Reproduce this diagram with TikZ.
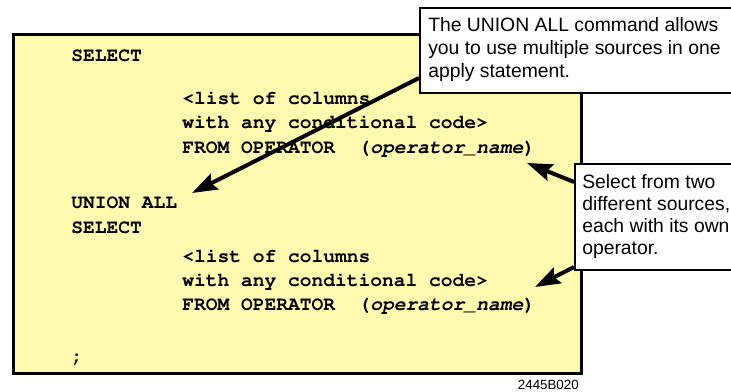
\documentclass[tikz,border=0pt]{standalone}
\usepackage[T1]{fontenc}
\usepackage{fontspec}
\setmainfont{Liberation Sans}
\setmonofont{Liberation Mono}
\usetikzlibrary{arrows.meta,calc}
\definecolor{notepad}{RGB}{255,250,176}
% bold Courier for the query listing
\newcommand{\querymono}{\fontencoding{T1}\fontfamily{pcr}\fontseries{b}\fontsize{14.7}{17}\selectfont}
\begin{document}
\begin{tikzpicture}[x=0.75pt,y=-0.75pt,
  code/.style={anchor=base west,inner sep=0pt,font=\querymono},
  note/.style={anchor=base west,inner sep=0pt,font=\fontsize{14.5}{17}\selectfont},
  panel/.style={draw=black,line width=2pt,fill=notepad,anchor=north west,inner sep=0pt},
  callout/.style={draw=black,line width=1.6pt,fill=white,anchor=north west,inner sep=0pt},
  pointer/.style={line width=3pt,-{Stealth[length=19pt,width=13pt,inset=3pt]}}]
\useasboundingbox (0,0) rectangle (731,392);
\clip (0,0) rectangle (731,392);

% query panel
\node[panel,minimum width=426pt,minimum height=254.25pt] (panel) at (12,33) {};

\node[code] (sel1)   at (71,62)  {SELECT};
\node[code] (cols1)  at (182,105) {<list of columns};
\node[code] (cond1)  at (182,129) {with any conditional code>};
\node[code] (from1)  at (182,153) {FROM OPERATOR~~(\textit{operator\_name})};
\node[code] (union)  at (71,208) {UNION ALL};
\node[code] (sel2)   at (71,233) {SELECT};
\node[code] (cols2)  at (182,262) {<list of columns};
\node[code] (cond2)  at (182,286) {with any conditional code>};
\node[code] (from2)  at (182,310) {FROM OPERATOR~~(\textit{operator\_name})};
\node[code] (semi)   at (71,362) {;};

% callouts
\node[callout,minimum width=244.5pt,minimum height=63.75pt] (c1) at (419,7) {};
\node[note] (c1a) at (428,32) {The UNION ALL command allows};
\node[note] (c1b) at (428,55) {you to use multiple sources in one};
\node[note] (c1c) at (428,78) {apply statement.};

\node[callout,minimum width=127.5pt,minimum height=79.5pt] (c2) at (574,163) {};
\node[note] (c2a) at (582,188) {Select from two};
\node[note] (c2b) at (582,210) {different sources,};
\node[note] (c2c) at (582,232) {each with its own};
\node[note] (c2d) at (582,254) {operator.};

% footer
\node[anchor=base east,inner sep=0pt,font=\fontsize{10}{12}\selectfont] (fig) at (579,389) {2445B020};

% pointers
\coordinate (tipUnion) at (192,193);
\coordinate (tipFrom1) at (527,163);
\coordinate (tipFrom2) at (535,287);
\draw[pointer] ($(c1.north west)+(0,71)$) -- (tipUnion);
\draw[pointer] ($(c2.north west)+(0,19)$) -- (tipFrom1);
\draw[pointer] ($(c2.north west)+(0,104)$) -- (tipFrom2);
\end{tikzpicture}
\end{document}
